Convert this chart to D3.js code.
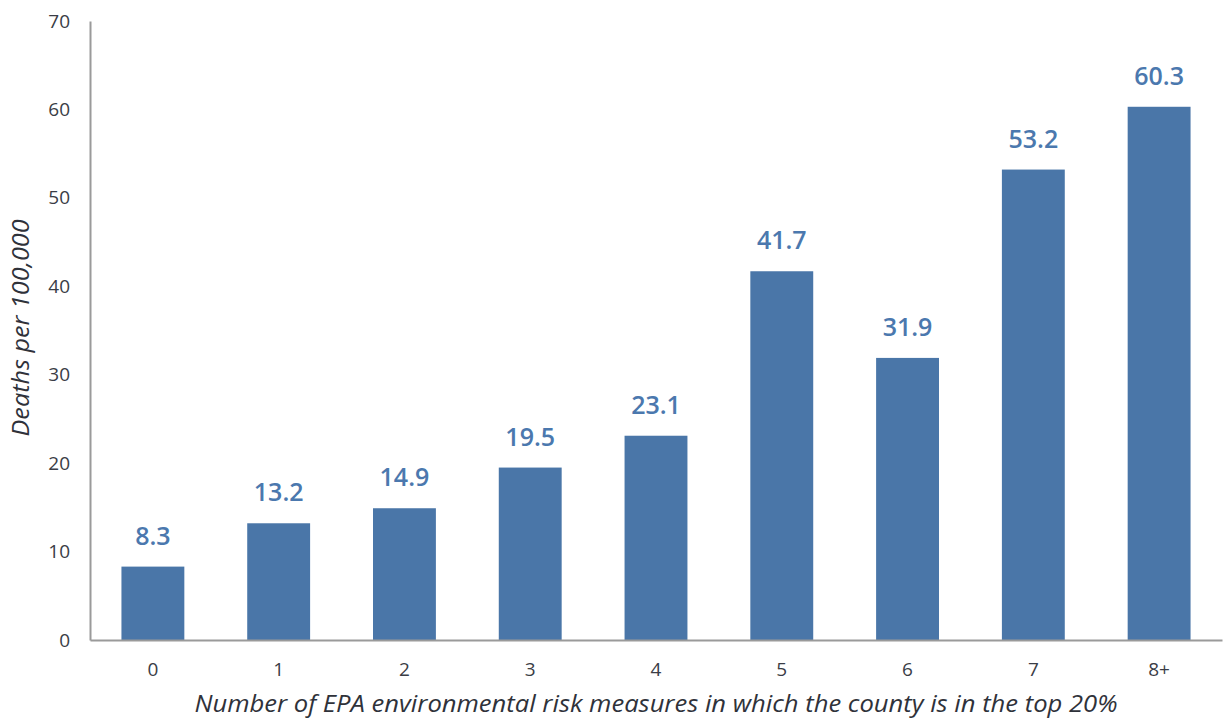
<!DOCTYPE html>
<html><head><meta charset="utf-8">
<script src="https://cdn.jsdelivr.net/npm/d3@7"></script>
<style>body{margin:0;background:#fff}svg{display:block}</style>
</head><body>
<svg id="chart" width="1224" height="721"></svg>
<script>
const categories = ["0","1","2","3","4","5","6","7","8+"];
const values = [8.3,13.2,14.9,19.5,23.1,41.7,31.9,53.2,60.3];
const yTicks = [0,10,20,30,40,50,60,70];
const xTitle = "Number of EPA environmental risk measures in which the county is in the top 20%";
const yTitle = "Deaths per 100,000";

const svg = d3.select("#chart");
const mLeft = 90, mRight = 1222, mTop = 21, mBottom = 640;
const x = d3.scaleBand().domain(categories).range([mLeft, mRight]).paddingInner(0.5).paddingOuter(0.25);
const y = d3.scaleLinear().domain([0,70]).range([mBottom, mTop]);
const font = "'Open Sans', sans-serif";

// bars
svg.append("g").selectAll("rect").data(values).join("rect")
  .attr("x",(d,i)=>x(categories[i])).attr("width",x.bandwidth())
  .attr("y",d=>y(d)).attr("height",d=>y(0)-y(d)).attr("fill","#4a76a8");

// value labels
svg.append("g").selectAll("text").data(values).join("text")
  .attr("x",(d,i)=>x(categories[i])+x.bandwidth()/2).attr("y",d=>y(d)-22)
  .attr("text-anchor","middle").attr("font-family",font).attr("font-weight",600)
  .attr("font-size",25).attr("fill","#4b78ae").text(d=>d.toFixed(1));

// y axis
const ya = svg.append("g").attr("transform",`translate(${mLeft},0)`)
  .call(d3.axisLeft(y).tickValues(yTicks).tickSize(0).tickPadding(20));
ya.select(".domain").attr("stroke","#9a9a9a").attr("stroke-width",2);
ya.selectAll("text").attr("font-family",font).attr("font-size",19).attr("fill","#3a3d46");

// x axis
const xa = svg.append("g").attr("transform",`translate(0,${mBottom})`)
  .call(d3.axisBottom(x).tickSize(0).tickPadding(23));
xa.select(".domain").attr("stroke","#9a9a9a").attr("stroke-width",2);
xa.selectAll("text").attr("font-family",font).attr("font-size",19).attr("fill","#3a3d46");

// titles
svg.append("text").attr("x",(mLeft+mRight)/2).attr("y",712).attr("text-anchor","middle")
  .attr("font-family",font).attr("font-style","italic").attr("font-size",24).attr("fill","#2f323a").text(xTitle)
  .attr("textLength",923).attr("lengthAdjust","spacingAndGlyphs");
svg.append("text").attr("transform",`translate(29,${328}) rotate(-90)`).attr("text-anchor","middle")
  .attr("font-family",font).attr("font-style","italic").attr("font-size",24).attr("fill","#2f323a").text(yTitle)
  .attr("textLength",217).attr("lengthAdjust","spacingAndGlyphs");
</script>
</body></html>
